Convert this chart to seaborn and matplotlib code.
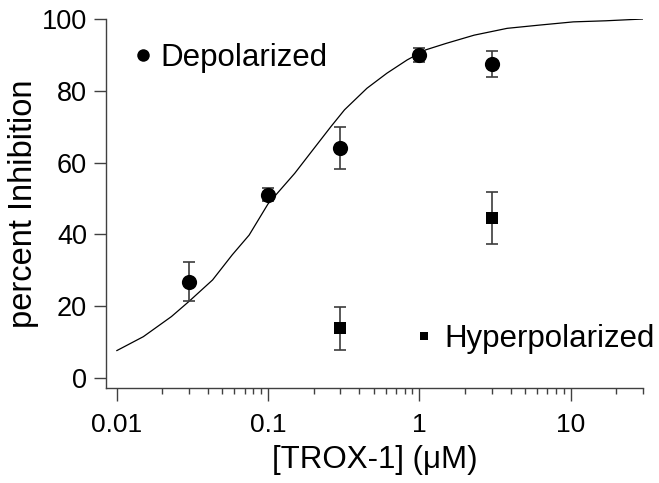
import matplotlib
matplotlib.use("Agg")
import matplotlib.pyplot as plt
import matplotlib.ticker as mticker
from matplotlib.lines import Line2D
import seaborn as sns
import pandas as pd

# ---- data ----
dep_x = [0.03, 0.1, 0.3, 1.0, 3.0]
dep_y = [26.8, 51.0, 64.0, 90.0, 87.5]
dep_err = [5.5, 1.8, 5.8, 2.0, 3.7]

hyp_x = [0.3, 3.0]
hyp_y = [13.8, 44.5]
hyp_err = [6.1, 7.2]

curve_x = [0.01, 0.015, 0.023, 0.03, 0.043, 0.058, 0.075, 0.1, 0.15, 0.19,
           0.26, 0.32, 0.45, 0.61, 0.83, 1.1, 1.5, 2.3, 3.8, 6.2, 10.4, 17, 30]
curve_y = [7.6, 11.5, 17.1, 21.3, 27.3, 34.3, 39.8, 48.5, 57.0, 62.6,
           70.0, 74.7, 80.7, 84.9, 88.6, 91.4, 93.2, 95.5, 97.4, 98.3, 99.2, 99.5, 100.0]

x_major = [0.01, 0.1, 1, 10]
x_labels = ["0.01", "0.1", "1", "10"]
y_ticks = [0, 20, 40, 60, 80, 100]

sns.set_style("ticks")
plt.rcParams["font.family"] = ["Liberation Sans", "DejaVu Sans"]
plt.rcParams["text.color"] = "black"
plt.rcParams["axes.labelcolor"] = "black"
plt.rcParams["xtick.labelcolor"] = "black"
plt.rcParams["ytick.labelcolor"] = "black"

W, H = 659, 483
fig = plt.figure(figsize=(W / 100, H / 100), dpi=100)
ax = fig.add_axes([106 / W, 1 - 388 / H, (643 - 106) / W, (388 - 19) / H])

dep_df = pd.DataFrame({"x": dep_x, "y": dep_y})
hyp_df = pd.DataFrame({"x": hyp_x, "y": hyp_y})
cur_df = pd.DataFrame({"x": curve_x, "y": curve_y})

sns.lineplot(data=cur_df, x="x", y="y", ax=ax, color="black", linewidth=0.9,
             zorder=2, legend=False)

for xs, ys, es in [(dep_x, dep_y, dep_err), (hyp_x, hyp_y, hyp_err)]:
    _, caps, bars = ax.errorbar(xs, ys, yerr=es, fmt="none", ecolor="#3c3c3c",
                                elinewidth=1.2, capsize=4, capthick=1.2, zorder=3)
    for c in caps:
        c.set_color("#7a7a7a")

sns.scatterplot(data=dep_df, x="x", y="y", ax=ax, marker="o", s=120,
                color="black", linewidth=0, zorder=4, legend=False)
sns.scatterplot(data=hyp_df, x="x", y="y", ax=ax, marker="s", s=82,
                color="black", linewidth=0, zorder=4, legend=False)

ax.set_xscale("log")
ax.set_xlim(0.0085, 30)
ax.set_ylim(-2.8, 100)

ax.xaxis.set_major_locator(mticker.FixedLocator(x_major))
ax.xaxis.set_major_formatter(mticker.FixedFormatter(x_labels))
minor = [m * d for d in [0.01, 0.1, 1, 10] for m in range(2, 10) if m * d <= 30.01]
ax.xaxis.set_minor_locator(mticker.FixedLocator(minor))
ax.xaxis.set_minor_formatter(mticker.NullFormatter())
ax.set_yticks(y_ticks)

sns.despine(ax=ax)
for s in ["left", "bottom"]:
    ax.spines[s].set_color("#404040")
    ax.spines[s].set_linewidth(1.0)

ax.tick_params(axis="both", which="major", direction="out", length=9, width=1.0,
               color="#404040", labelcolor="black")
ax.tick_params(axis="x", which="major", pad=9, labelsize=19)
ax.tick_params(axis="y", which="major", pad=4.5, labelsize=19.5)
ax.tick_params(axis="x", which="minor", direction="out", length=4.5, width=1.0,
               color="#404040")

ax.set_xlabel("[TROX-1] (\u03bcM)", fontsize=22.5, labelpad=5.5, color="black")
ax.set_ylabel("percent Inhibition", fontsize=23.5, labelpad=2, color="black")

h1 = Line2D([], [], marker="o", linestyle="none", color="black", markersize=9,
            markeredgewidth=0)
h2 = Line2D([], [], marker="s", linestyle="none", color="black", markersize=6,
            markeredgewidth=0)
leg1 = ax.legend([h1], ["Depolarized"], loc="center left",
                 bbox_to_anchor=(0.0546, 0.894), frameon=False, fontsize=22.5,
                 borderpad=0, borderaxespad=0, handlelength=0.5, handletextpad=0.3,
                 labelcolor="black")
ax.add_artist(leg1)
ax.legend([h2], ["Hyperpolarized"], loc="center left",
          bbox_to_anchor=(0.578, 0.133), frameon=False, fontsize=22.5,
          borderpad=0, borderaxespad=0, handlelength=0.5, handletextpad=0.4,
          labelcolor="black")

fig.savefig("out.png", dpi=100)
